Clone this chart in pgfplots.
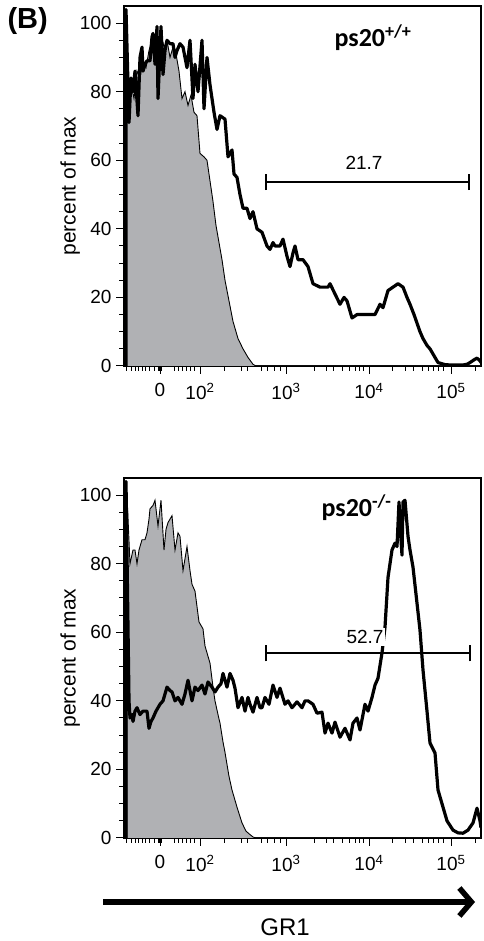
\documentclass[border=0pt]{standalone}
\usepackage{pgfplots}
\pgfplotsset{compat=1.18}
\usetikzlibrary{arrows.meta}
\usepackage{fontspec}
\setmainfont{Liberation Sans}
\newfontfamily\labfont{Carlito}
\definecolor{isogray}{RGB}{176,177,180}

% x is the displayed (logicle) channel position
\pgfplotstableread{
x y
126 0
126 70
128 75
131 82
134 78
137 86
140 84
143 89
146 87
149 92
152 95
155 96
158 91
161 97
164 93
167 95
170 90
173 93
176 91
179 86
182 78
185 80
188 76
191 79
194 74
197 73
200 62
204 61
207 60
210 54
213 48
216 41
219 36
222 31
225 25
229 19
233 13
238 8
243 5
248 2.5
253 0.5
256 0
481 0
}\isotop

\pgfplotstableread{
x y
126 0
126 104
129 71
131 84
133 80
135 86
138 73
140 90
142 93
143 86
145 88
147 89
150 89
152 96
153 97
155 88
157 99
158 78
161 99
163 85
165 92
167 95
170 94
173 94
175 90
177 92
180 94
183 93
185 90
187 87
190 95
193 78
195 88
198 80
202 95
204 75
207 90
210 82
214 74
217 69
220 73
225 72
228 61
232 63
234 56
237 55
240 50
243 46
247 46
250 43
253 45
257 40
262 39
267 35
270 34
273 36
275 35
280 35
283 37
287 32
290 29
293 33
295 35
298 31
303 31
308 29
313 24
320 23
328 23
330 24
335 21
340 18
344 20
347 19
352 14
357 15
365 15
370 15
375 15
380 18
383 17
388 22
393 23
398 24
403 23
407 20
410 18
414 15
417 12.5
420 10
423 8
427 6
430 5
434 3
438 1
445 0.4
450 0.3
463 0.3
467 0.5
470 1
474 1.8
477 2.3
480 1.5
481 1
}\gronetop

\pgfplotstableread{
x y
127 0
127 100
130 80
133 84
135 84
137 80
139 84
142 87
145 87
147 89
149 93
150 96
153 97
155 98.5
158 91
161 98.5
164 84
166 90
168 92
172 94
175 84
178 89
180 88
183 78
187 85
190 78
192 74
195 72
199 63
203 61
205 56
207 54
210 51
213 44
215 40
218 36
220 33.5
223 28
225 25
229 18
232 14
237 9
242 4.4
246 2
250 1
253 0.3
256 0
481 0
}\isobot

\pgfplotstableread{
x y
126 0
126 104
129 40
130 35
132 36
133 34
135 37
137 38
140 36
143 37
147 37
149 32
151 34
153 35
156 37
160 39
163 40
165 42
167 44
170 43
172 42.6
175 40
178 41
182 39
185 42
188 46
192 40
195 44
198 43
202 44.6
205 42
208 45.5
212 44
215 42.6
218 44
221 45
223 48
227 44
230 48
233 46
235 43.7
238 38
242 41
245 37
248 41
250 39
253 36.7
257 41
260 38
262 38
265 41
269 39
273 44.6
277 41
280 43.7
285 39
288 40
292 38
297 39.7
302 38
305 40
308 40
313 39
317 36.4
322 36.7
325 30.6
328 33.5
332 30.6
335 33.8
340 29.4
345 32
350 28.6
353 33.5
357 35
360 31.5
365 39
368 37
372 41
375 44.6
378 46.6
382 54
385 61.5
388 76
392 84
395 86
397 85
399 98
401 87
402 82.5
403 98
405 98.5
408 88
410 84
413 79
417 68.5
420 60.6
423 49
427 37
430 27.7
435 24.8
438 14
442 10
447 5
453 2.3
458 1.5
463 1.4
468 2.3
473 4.4
477 8.7
480 5
481 3
}\gronebot

\pgfplotsset{facs/.style={
  scale only axis, width=357pt, height=360pt,
  xmin=124, xmax=481, ymin=0, ymax=105,
  axis line style={line width=1.1pt},
  tick align=outside, xtick pos=bottom, ytick pos=left,
  major tick length=8pt, minor tick length=5pt,
  every tick/.style={black, line width=1pt},
  xtick={160,200,286,369,451},
  xticklabels={0,10\textsuperscript{2},10\textsuperscript{3},10\textsuperscript{4},10\textsuperscript{5}},
  minor xtick={126.3,131.3,135.3,138.7,142,145.7,149.7,154,158.5,159.5,160.5,161.5,174,178,182,186.3,190.7,194.7,224,241,247,261,267,274,280,314,326,333,342,349,355,359,363,392,405,413,422,428,433,438,443,475},
  ytick={0,20,...,100},
  minor ytick={5,10,...,95},
  /pgf/number format/assume math mode=true,
  tick label style={font=\fontsize{19}{22}\selectfont},
  xticklabel style={yshift=-6pt},
  yticklabel style={xshift=-1pt},
  ylabel={percent of max},
  ylabel style={font=\fontsize{21}{24}\selectfont, at={(axis description cs:-0.151,0.5)}, anchor=center},
}}

\begin{document}
\begin{tikzpicture}[x=1pt,y=1pt]
\useasboundingbox (0pt,0pt) rectangle (483pt,941pt);

\node[anchor=west, font=\bfseries\fontsize{29}{32}\selectfont] at (4pt,920pt) {(B)};

\begin{axis}[facs, at={(124pt,575pt)}, anchor=south west]
\addplot[fill=isogray, draw=black, line width=0.9pt] table {\isotop};
\addplot[black, line width=3.2pt, line join=round] table {\gronetop};
\draw[line width=1.8pt] (axis cs:266,53.7) -- (axis cs:469,53.7);
\draw[line width=1.8pt] (axis cs:266,51.3) -- (axis cs:266,56.1);
\draw[line width=1.8pt] (axis cs:469,51.3) -- (axis cs:469,56.1);
\node[font=\fontsize{19}{22}\selectfont] at (axis cs:364,59.2) {21.7};
\end{axis}
\node[anchor=base west, font=\labfont\bfseries\fontsize{26}{28}\selectfont] at (331pt,894pt) {ps20\textsuperscript{+/+}};

\begin{axis}[facs, at={(124pt,103pt)}, anchor=south west]
\addplot[fill=isogray, draw=black, line width=0.9pt] table {\isobot};
\addplot[black, line width=3.2pt, line join=round] table {\gronebot};
\node[fill=white, inner sep=2pt, font=\fontsize{19}{22}\selectfont] at (axis cs:365,58.6) {52.7};
\draw[line width=1.8pt] (axis cs:266,53.9) -- (axis cs:470,53.9);
\draw[line width=1.8pt] (axis cs:266,51.5) -- (axis cs:266,56.3);
\draw[line width=1.8pt] (axis cs:470,51.5) -- (axis cs:470,56.3);
\end{axis}
\node[anchor=base west, font=\labfont\bfseries\fontsize{26}{28}\selectfont] at (318pt,424pt) {ps20\textsuperscript{-/-}};

\draw[line width=5.5pt, -{Straight Barb[length=12pt, width=28pt]}] (103pt,39pt) -- (475pt,39pt);
\node[font=\fontsize{24}{26}\selectfont] at (285pt,14pt) {GR1};
\end{tikzpicture}
\end{document}
